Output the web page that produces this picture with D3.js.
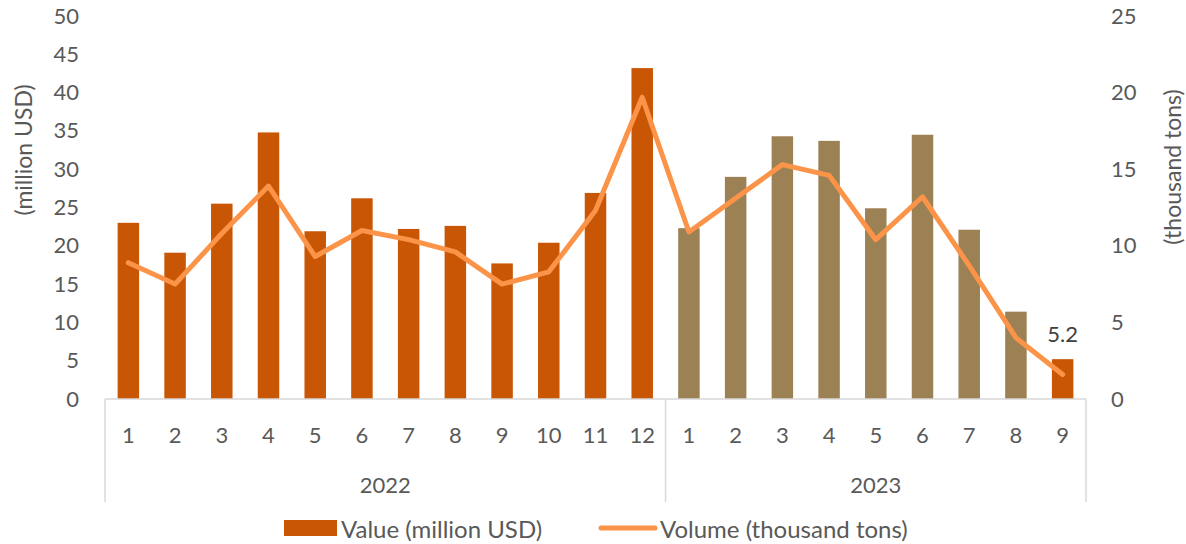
<!DOCTYPE html>
<html>
<head>
<meta charset="utf-8">
<script src="https://cdn.jsdelivr.net/npm/d3@7"></script>
<style>
  html, body { margin: 0; padding: 0; background: #fff; }
  svg { display: block; }
  text { font-family: Lato, "Open Sans", sans-serif; }
</style>
</head>
<body>
<svg id="chart" width="1186" height="544"></svg>
<script>
// ---- data ----
const years = ["2022", "2023"];
const months2022 = ["1","2","3","4","5","6","7","8","9","10","11","12"];
const months2023 = ["1","2","3","4","5","6","7","8","9"];
const value2022 = [23.0, 19.1, 25.5, 34.8, 21.9, 26.2, 22.2, 22.6, 17.7, 20.4, 26.9, 43.2];
const value2023 = [22.3, 29.0, 34.3, 33.7, 24.9, 34.5, 22.1, 11.4, 5.2];
const volume2022 = [8.9, 7.5, 10.8, 13.9, 9.3, 11.0, 10.4, 9.6, 7.5, 8.3, 12.3, 19.7];
const volume2023 = [10.9, 13.1, 15.3, 14.6, 10.4, 13.2, 8.7, 4.0, 1.6];
const leftTicks = [0, 5, 10, 15, 20, 25, 30, 35, 40, 45, 50];
const rightTicks = [0, 5, 10, 15, 20, 25];
const seriesNames = ["Value (million USD)", "Volume (thousand tons)"];
const axisTitles = ["(million USD)", "(thousand tons)"];
const labelText = "5.2";

// ---- build rows ----
const rows = [];
months2022.forEach((m, i) => rows.push({ year: years[0], month: m, value: value2022[i], volume: volume2022[i] }));
months2023.forEach((m, i) => rows.push({ year: years[1], month: m, value: value2023[i], volume: volume2023[i] }));
rows.forEach((r, i) => r.idx = i);

const svg = d3.select("#chart");
const X0 = 105, X1 = 1086, Y0 = 399, Y1 = 16;
const pad = 0.54;
const x = d3.scaleBand().domain(rows.map(r => r.idx)).range([X0, X1]).paddingInner(pad).paddingOuter(pad / 2);
const yL = d3.scaleLinear().domain([0, 50]).range([Y0, Y1]);
const yR = d3.scaleLinear().domain([0, 25]).range([Y0, Y1]);

const textCol = "#595959";
const gridCol = "#d9d9d9";
const orange = "#C85604";
const tan = "#9C8155";
const lineCol = "#FB9448";

// left axis labels
const gL = svg.append("g").attr("transform", `translate(${X0},0)`)
  .call(d3.axisLeft(yL).tickValues(leftTicks).tickSize(0).tickPadding(26));
gL.select(".domain").remove();
gL.selectAll("text").attr("fill", textCol).style("font-size", "22px").style("font-family", "Lato");

// right axis labels
const gR = svg.append("g").attr("transform", `translate(${X1},0)`)
  .call(d3.axisRight(yR).tickValues(rightTicks).tickSize(0).tickPadding(25));
gR.select(".domain").remove();
gR.selectAll("text").attr("fill", textCol).style("font-size", "22px").style("font-family", "Lato");

// bars
svg.append("g").selectAll("rect").data(rows).join("rect")
  .attr("x", d => x(d.idx))
  .attr("width", x.bandwidth())
  .attr("y", d => yL(d.value))
  .attr("height", d => yL(0) - yL(d.value))
  .attr("fill", (d, i) => (d.year === years[0] || i === rows.length - 1) ? orange : tan);

// category axis lines
const ax = svg.append("g").attr("stroke", gridCol).attr("stroke-width", 1.5).attr("fill", "none");
ax.append("line").attr("x1", X0).attr("x2", X1).attr("y1", Y0).attr("y2", Y0);
const sepX = x(months2022.length) - x.step() * pad / 2;
[X0, sepX, X1].forEach(v => {
  ax.append("line").attr("x1", v).attr("x2", v).attr("y1", Y0).attr("y2", 502);
});

// month labels
svg.append("g").selectAll("text").data(rows).join("text")
  .attr("x", d => x(d.idx) + x.bandwidth() / 2)
  .attr("y", 443)
  .attr("text-anchor", "middle")
  .attr("fill", textCol)
  .style("font-size", "22px")
  .text(d => d.month);

// year labels
const yearSpans = [[X0, sepX], [sepX, X1]];
svg.append("g").selectAll("text").data(years).join("text")
  .attr("x", (d, i) => (yearSpans[i][0] + yearSpans[i][1]) / 2)
  .attr("y", 493)
  .attr("text-anchor", "middle")
  .attr("fill", textCol)
  .style("font-size", "22px")
  .text(d => d);

// volume line
const line = d3.line().x(d => x(d.idx) + x.bandwidth() / 2).y(d => yR(d.volume));
svg.append("path").datum(rows)
  .attr("d", line)
  .attr("fill", "none")
  .attr("stroke", lineCol)
  .attr("stroke-width", 5)
  .attr("stroke-linejoin", "round")
  .attr("stroke-linecap", "round");

// data label on last bar
const last = rows[rows.length - 1];
svg.append("text")
  .attr("x", x(last.idx) + x.bandwidth() / 2)
  .attr("y", yL(last.value) - 17)
  .attr("text-anchor", "middle")
  .attr("fill", "#404040")
  .style("font-size", "22px")
  .text(labelText);

// axis titles
svg.append("text")
  .attr("transform", "translate(23,150) rotate(-90)")
  .attr("text-anchor", "middle").attr("dominant-baseline", "central")
  .attr("fill", textCol).style("font-size", "23px")
  .text(axisTitles[0]);
svg.append("text")
  .attr("transform", "translate(1172,167) rotate(-90)")
  .attr("text-anchor", "middle").attr("dominant-baseline", "central")
  .attr("fill", textCol).style("font-size", "23px")
  .text(axisTitles[1]);

// legend
const lg = svg.append("g");
lg.append("rect").attr("x", 284).attr("y", 520).attr("width", 53).attr("height", 16).attr("fill", orange);
lg.append("text").attr("x", 341).attr("y", 528).attr("dominant-baseline", "central")
  .attr("fill", textCol).style("font-size", "24px").text(seriesNames[0]);
lg.append("line").attr("x1", 601).attr("x2", 655).attr("y1", 528).attr("y2", 528)
  .attr("stroke", lineCol).attr("stroke-width", 5).attr("stroke-linecap", "round");
lg.append("text").attr("x", 660).attr("y", 528).attr("dominant-baseline", "central")
  .attr("fill", textCol).style("font-size", "24px").text(seriesNames[1]);
</script>
</body>
</html>
